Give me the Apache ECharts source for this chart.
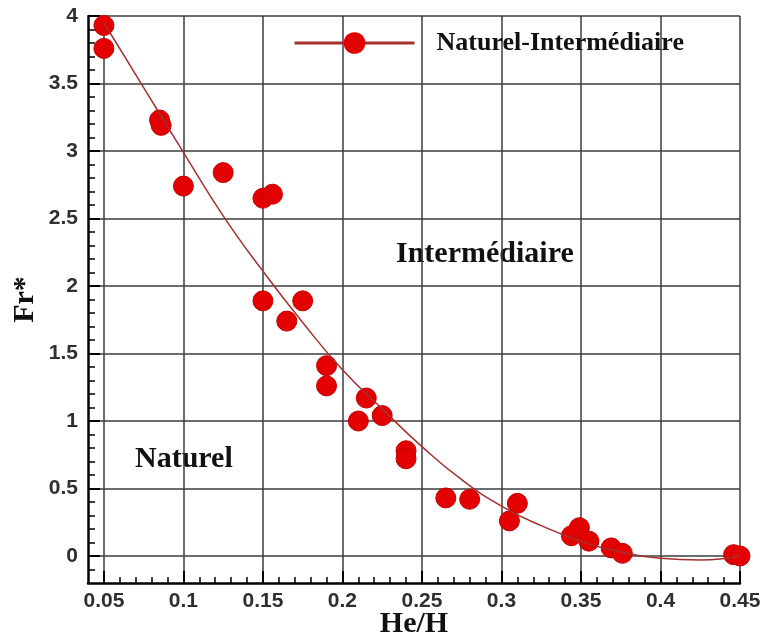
<!DOCTYPE html>
<html>
<head>
<meta charset="utf-8">
<script src="https://cdn.jsdelivr.net/npm/echarts@6/dist/echarts.min.js"></script>
<style>
html,body{margin:0;padding:0;background:#fff}
#main{width:761px;height:639px}
</style>
</head>
<body>
<div id="main"></div>
<script>
// measured points (He/H, Fr*)
var pointX = [0.05, 0.05, 0.085, 0.086, 0.1, 0.125, 0.15, 0.156, 0.15, 0.165, 0.175, 0.19, 0.19, 0.21, 0.215, 0.225, 0.24, 0.24, 0.265, 0.28, 0.305, 0.31, 0.344, 0.349, 0.355, 0.369, 0.376, 0.446, 0.45];
var pointY = [3.93, 3.76, 3.23, 3.19, 2.74, 2.84, 2.65, 2.68, 1.89, 1.74, 1.89, 1.41, 1.26, 1.00, 1.17, 1.04, 0.78, 0.72, 0.43, 0.42, 0.26, 0.39, 0.15, 0.21, 0.11, 0.06, 0.02, 0.01, 0.0];

// fitted boundary curve
var curveX = [0.05, 0.075, 0.1, 0.125, 0.15, 0.175, 0.2, 0.225, 0.25, 0.275, 0.3, 0.325, 0.35, 0.375, 0.4, 0.425, 0.45];
var curveY = [3.95, 3.47, 2.99, 2.52, 2.11, 1.73, 1.38, 1.09, 0.81, 0.565, 0.37, 0.225, 0.11, 0.03, -0.017, -0.03, 0.0];

var xTicks = [0.05, 0.1, 0.15, 0.2, 0.25, 0.3, 0.35, 0.4, 0.45];
var yTicks = [0, 0.5, 1, 1.5, 2, 2.5, 3, 3.5, 4];

var seriesName = 'Naturel-Intermédiaire';

var xMinor = [];
for (var i = 5; i <= 45; i++) {
  if (i % 5 != 0) xMinor.push(i / 100);
}
var yMinor = [];
for (var j = -1; j <= 40; j++) {
  if (j % 5 != 0) yMinor.push(j / 10);
}

var points = pointX.map(function (x, k) { return [x, pointY[k]]; });
var curve = curveX.map(function (x, k) { return [x, curveY[k]]; });

var chart = echarts.init(document.getElementById('main'), null, { renderer: 'canvas' });

var labelFont = {
  fontFamily: 'Liberation Sans',
  fontSize: 21,
  fontWeight: 'bold',
  color: '#2f2f2f'
};
var nameFont = {
  fontFamily: 'Liberation Serif',
  fontSize: 30,
  fontWeight: 'bold',
  color: '#111'
};

var option = {
  animation: false,
  backgroundColor: '#fff',
  grid: { left: 88, top: 16, right: 21, bottom: 56, outerBoundsMode: 'none', containLabel: false },
  legend: {
    data: [seriesName],
    left: 293,
    top: 30,
    padding: 0,
    itemWidth: 120,
    itemHeight: 27,
    lineStyle: { width: 3 },
    textStyle: {
      fontFamily: 'Liberation Serif',
      fontSize: 26,
      fontWeight: 'bold',
      color: '#111',
      padding: [0, 0, 0, 17]
    }
  },
  xAxis: [
    {
      type: 'value',
      min: 0.04,
      max: 0.45,
      splitNumber: 8,
      name: 'He/H',
      nameLocation: 'middle',
      nameGap: 26,
      nameMoveOverlap: false,
      nameTextStyle: nameFont,
      axisLine: { show: true, onZero: false, lineStyle: { color: '#000', width: 2.5 } },
      axisTick: { show: true, inside: true, length: 12, customValues: xTicks, lineStyle: { color: '#000', width: 2 } },
      axisLabel: Object.assign({ margin: 8, customValues: xTicks }, labelFont),
      splitLine: { show: true, lineStyle: { color: '#3c3c3c', width: 1.5 } }
    },
    {
      type: 'value',
      position: 'bottom',
      min: 0.04,
      max: 0.45,
      axisLine: { show: false, onZero: false },
      axisTick: { show: true, inside: true, length: 6, customValues: xMinor, lineStyle: { color: '#000', width: 1.5 } },
      axisLabel: { show: false },
      splitLine: { show: false }
    }
  ],
  yAxis: [
    {
      type: 'value',
      min: -0.2,
      max: 4,
      splitNumber: 8,
      name: 'Fr*',
      nameLocation: 'middle',
      nameGap: 48,
      nameMoveOverlap: false,
      nameTextStyle: nameFont,
      axisLine: { show: true, onZero: false, lineStyle: { color: '#000', width: 2.5 } },
      axisTick: { show: true, inside: true, length: 12, customValues: yTicks, lineStyle: { color: '#000', width: 2 } },
      axisLabel: Object.assign({ margin: 10, customValues: yTicks }, labelFont),
      splitLine: { show: true, lineStyle: { color: '#3c3c3c', width: 1.5 } }
    },
    {
      type: 'value',
      position: 'left',
      min: -0.2,
      max: 4,
      axisLine: { show: false, onZero: false },
      axisTick: { show: true, inside: true, length: 7, customValues: yMinor, lineStyle: { color: '#000', width: 1.5 } },
      axisLabel: { show: false },
      splitLine: { show: false }
    }
  ],
  graphic: [
    {
      type: 'text',
      left: 396,
      top: 239,
      style: { text: 'Intermédiaire', fontFamily: 'Liberation Serif', fontSize: 30, fontWeight: 'bold', fill: '#111' }
    },
    {
      type: 'text',
      left: 135,
      top: 444,
      style: { text: 'Naturel', fontFamily: 'Liberation Serif', fontSize: 30, fontWeight: 'bold', fill: '#111' }
    }
  ],
  series: [
    {
      name: 'points',
      type: 'scatter',
      symbol: 'circle',
      symbolSize: 20,
      itemStyle: { color: '#e30000', borderColor: '#c40000', borderWidth: 1, opacity: 1 },
      data: points,
      z: 2
    },
    {
      name: seriesName,
      type: 'line',
      smooth: true,
      symbol: 'circle',
      showSymbol: false,
      itemStyle: { color: '#e30000' },
      lineStyle: { color: '#a53030', width: 1.5 },
      data: curve,
      z: 3
    }
  ]
};

chart.setOption(option);
</script>
</body>
</html>
